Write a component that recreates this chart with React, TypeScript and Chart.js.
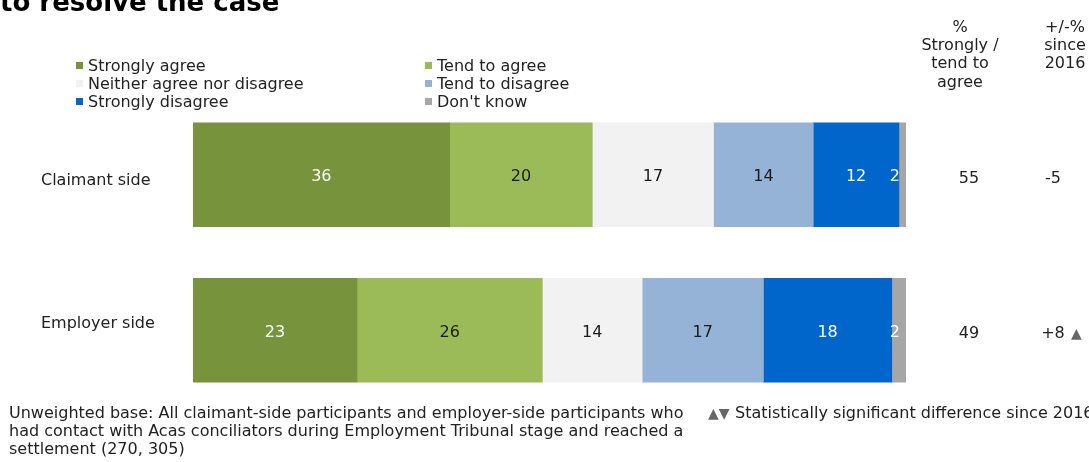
import React, { useEffect, useRef } from "react";
import { Chart, registerables } from "chart.js";

Chart.register(...registerables);

// ---------- data ----------
const categories = ["Claimant side", "Employer side"];
const seriesNames = [
  "Strongly agree",
  "Tend to agree",
  "Neither agree nor disagree",
  "Tend to disagree",
  "Strongly disagree",
  "Don't know",
];
const stronglyAgree = [36, 23];
const tendToAgree = [20, 26];
const neitherAgree = [17, 14];
const tendToDisagree = [14, 17];
const stronglyDisagree = [12, 18];
const dontKnow = [2, 2];
const agreeTotals = ["55", "49"];
const changeSince2016 = ["-5", "+8"];
const significantChange = ["", "▲"];

const titleText = "to resolve the case";
const headerAgree = ["%", "Strongly /", "tend to", "agree"];
const headerChange = ["+/-%", "since", "2016"];
const footerLines = [
  "Unweighted base: All claimant-side participants and employer-side participants who",
  "had contact with Acas conciliators during Employment Tribunal stage and reached a",
  "settlement (270, 305)",
];
const significanceMarks = "▲▼";
const significanceNote = "Statistically significant difference since 2016";

// ---------- styles ----------
const seriesColors = ["#77933C", "#9BBB59", "#F2F2F2", "#95B3D7", "#0066CC", "#A6A6A6"];
const valueLabelColors = ["#FFFFFF", "#1A1A1A", "#1A1A1A", "#1A1A1A", "#FFFFFF", "#FFFFFF"];
const FONT = '"DejaVu Sans", Verdana, sans-serif';
const TEXT = "#222222";
const categoryLabelOffsets = [10.5, -2];

const overlayPlugin = {
  id: "overlayText",
  afterDatasetsDraw(chart: any) {
    const ctx = chart.ctx as CanvasRenderingContext2D;
    const area = chart.chartArea;
    ctx.save();
    ctx.font = `16px ${FONT}`;
    ctx.textAlign = "center";
    ctx.textBaseline = "alphabetic";
    chart.data.datasets.forEach((ds: any, di: number) => {
      const meta = chart.getDatasetMeta(di);
      meta.data.forEach((el: any, i: number) => {
        const p = el.getProps(["x", "base", "y"], true);
        const left = Math.min(p.x, p.base);
        const right = Math.min(Math.max(p.x, p.base), area.right);
        const txt = String(ds.data[i]);
        const w = ctx.measureText(txt).width;
        let cx = (left + right) / 2;
        cx = Math.min(cx, area.right - 6 - w / 2);
        ctx.fillStyle = valueLabelColors[di];
        ctx.fillText(txt, cx, p.y + 6.5);
      });
    });
    ctx.restore();
  },
  afterDraw(chart: any) {
    const ctx = chart.ctx as CanvasRenderingContext2D;
    const yScale = chart.scales.y;
    ctx.save();
    ctx.textBaseline = "alphabetic";

    // title (cut off at top)
    ctx.font = `bold 26px ${FONT}`;
    ctx.fillStyle = "#000000";
    ctx.textAlign = "left";
    ctx.fillText(titleText, 0, 11);

    // legend (2 columns x 3 rows)
    ctx.font = `16px ${FONT}`;
    seriesNames.forEach((name, i) => {
      const col = i % 2;
      const row = Math.floor(i / 2);
      const mx = col === 0 ? 76 : 425;
      const baseY = 71 + row * 18;
      ctx.fillStyle = seriesColors[i];
      ctx.fillRect(mx, baseY - 9, 7, 7);
      ctx.fillStyle = TEXT;
      ctx.textAlign = "left";
      ctx.fillText(name, mx + 12, baseY);
    });

    // column headers
    ctx.textAlign = "center";
    ctx.fillStyle = TEXT;
    headerAgree.forEach((t, i) => ctx.fillText(t, 960, 31.5 + i * 18.4));
    headerChange.forEach((t, i) => ctx.fillText(t, 1065, 31.5 + i * 18.4));

    // category labels + right columns
    categories.forEach((cat, i) => {
      const cy = yScale.getPixelForValue(i);
      ctx.font = `16px ${FONT}`;
      ctx.fillStyle = TEXT;
      ctx.textAlign = "left";
      ctx.fillText(cat, 41, cy + categoryLabelOffsets[i]);
      ctx.textAlign = "center";
      ctx.fillText(agreeTotals[i], 969, cy + 8);
      ctx.fillText(changeSince2016[i], 1053, cy + 8);
      if (significantChange[i]) {
        ctx.font = `14px ${FONT}`;
        ctx.fillStyle = "#666666";
        ctx.textAlign = "left";
        ctx.fillText(significantChange[i], 1071, cy + 8);
      }
    });

    // footer
    ctx.font = `16px ${FONT}`;
    ctx.fillStyle = TEXT;
    ctx.textAlign = "left";
    footerLines.forEach((t, i) => ctx.fillText(t, 9, 418 + i * 18));
    ctx.font = `14px ${FONT}`;
    ctx.fillStyle = "#666666";
    ctx.fillText(significanceMarks, 708, 418);
    ctx.font = `16px ${FONT}`;
    ctx.fillStyle = TEXT;
    ctx.fillText(significanceNote, 735, 418);
    ctx.restore();
  },
};

export default function App() {
  const canvasRef = useRef<HTMLCanvasElement | null>(null);

  useEffect(() => {
    if (!canvasRef.current) return;
    const seriesValues = [
      stronglyAgree,
      tendToAgree,
      neitherAgree,
      tendToDisagree,
      stronglyDisagree,
      dontKnow,
    ];
    const chart = new Chart(canvasRef.current, {
      type: "bar",
      data: {
        labels: categories,
        datasets: seriesValues.map((vals, i) => ({
          label: seriesNames[i],
          data: vals,
          backgroundColor: seriesColors[i],
          borderWidth: 0,
          barThickness: 104,
          clip: 0,
        })),
      },
      options: {
        indexAxis: "y",
        responsive: false,
        animation: false,
        devicePixelRatio: 1,
        layout: { padding: { left: 193, right: 183, top: 97, bottom: 54 } },
        scales: {
          x: { stacked: true, min: 0, max: 100, display: false },
          y: { stacked: true, display: false },
        },
        plugins: {
          legend: { display: false },
          title: { display: false },
          tooltip: { enabled: false },
        },
      },
      plugins: [overlayPlugin],
    } as any);
    return () => chart.destroy();
  }, []);

  return (
    <div
      style={{
        position: "fixed",
        left: 0,
        top: 0,
        width: 1089,
        height: 462,
        background: "#ffffff",
        overflow: "hidden",
      }}
    >
      <canvas ref={canvasRef} width={1089} height={462} style={{ display: "block" }} />
    </div>
  );
}
